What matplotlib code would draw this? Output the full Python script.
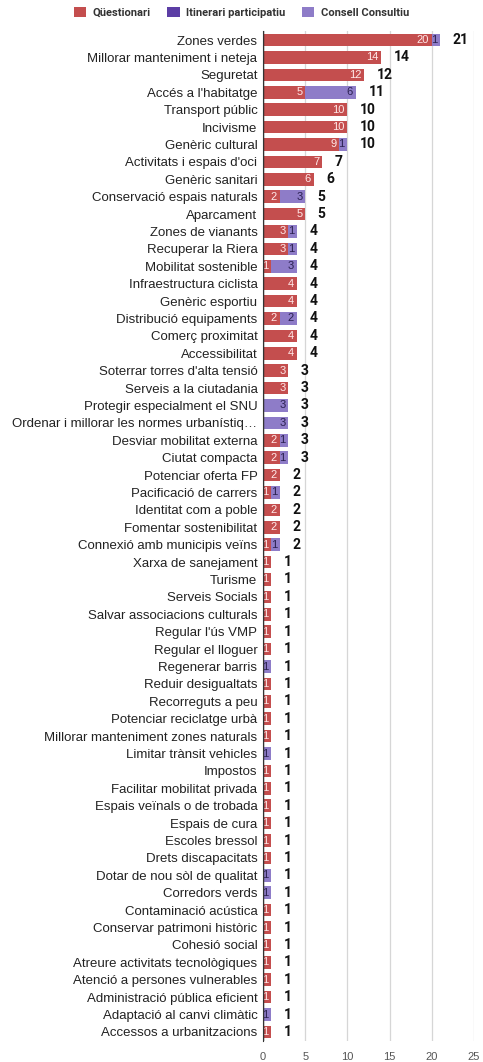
import matplotlib.pyplot as plt
import numpy as np

categories = [
    "Zones verdes", "Millorar manteniment i neteja", "Seguretat", "Accés a l'habitatge",
    "Transport públic", "Incivisme", "Genèric cultural", "Activitats i espais d'oci",
    "Genèric sanitari", "Conservació espais naturals", "Aparcament", "Zones de vianants",
    "Recuperar la Riera", "Mobilitat sostenible", "Infraestructura ciclista", "Genèric esportiu",
    "Distribució equipaments", "Comerç proximitat", "Accessibilitat", "Soterrar torres d'alta tensió",
    "Serveis a la ciutadania", "Protegir especialment el SNU",
    "Ordenar i millorar les normes urbanístiq…", "Desviar mobilitat externa", "Ciutat compacta",
    "Potenciar oferta FP", "Pacificació de carrers", "Identitat com a poble", "Fomentar sostenibilitat",
    "Connexió amb municipis veïns", "Xarxa de sanejament", "Turisme", "Serveis Socials",
    "Salvar associacions culturals", "Regular l'ús VMP", "Regular el lloguer", "Regenerar barris",
    "Reduir desigualtats", "Recorreguts a peu", "Potenciar reciclatge urbà",
    "Millorar manteniment zones naturals", "Limitar trànsit vehicles", "Impostos",
    "Facilitar mobilitat privada", "Espais veïnals o de trobada", "Espais de cura", "Escoles bressol",
    "Drets discapacitats", "Dotar de nou sòl de qualitat", "Corredors verds", "Contaminació acústica",
    "Conservar patrimoni històric", "Cohesió social", "Atreure activitats tecnològiques",
    "Atenció a persones vulnerables", "Administració pública eficient", "Adaptació al canvi climàtic",
    "Accessos a urbanitzacions",
]
questionari = [20, 14, 12, 5, 10, 10, 9, 7, 6, 2, 5, 3, 3, 1, 4, 4, 2, 4, 4, 3, 3, 0, 0, 2, 2,
               2, 1, 2, 2, 1, 1, 1, 1, 1, 1, 1, 0, 1, 1, 1, 1, 0, 1, 1, 1, 1, 1, 1, 0, 0, 1,
               1, 1, 1, 1, 1, 0, 1]
itinerari = [0] * len(categories)
consell = [1, 0, 0, 6, 0, 0, 1, 0, 0, 3, 0, 1, 1, 3, 0, 0, 2, 0, 0, 0, 0, 3, 3, 1, 1,
           0, 1, 0, 0, 1, 0, 0, 0, 0, 0, 0, 1, 0, 0, 0, 0, 1, 0, 0, 0, 0, 0, 0, 1, 1, 0,
           0, 0, 0, 0, 0, 1, 0]
series_names = ["Qüestionari", "Itinerari participatiu", "Consell Consultiu"]
colors = ["#c44e4e", "#5c3ea5", "#8e7cc8"]
label_colors = ["#ffe8e8", "#ffffff", "#2a2050"]

plt.rcParams['font.family'] = ['Liberation Sans', 'DejaVu Sans']

fig = plt.figure(figsize=(4.83, 10.62), dpi=100)
ax = fig.add_axes([0.5445, 0.0201, 0.4369, 0.9504])

y = np.arange(len(categories))
left = np.zeros(len(categories))
handles = []
for vals, name, col, lcol in zip([questionari, itinerari, consell], series_names, colors, label_colors):
    vals = np.array(vals, dtype=float)
    h = ax.barh(y, vals, left=left, height=0.72, color=col, label=name, zorder=3)
    handles.append(h)
    for yi, v, l in zip(y, vals, left):
        if v > 0:
            ax.annotate(str(int(v)), (l + v, yi), xytext=(-2, 0), textcoords='offset points',
                        ha='right', va='center', fontsize=8, color=lcol, zorder=4)
    left = left + vals

for yi, tot in zip(y, left):
    ax.annotate(str(int(tot)), (tot, yi), xytext=(9, 0), textcoords='offset points',
                ha='left', va='center', fontsize=10, fontweight='bold', color='#111111',
                family=['Roboto', 'DejaVu Sans'])

ax.set_xlim(0, 25)
ax.set_ylim(len(categories) - 0.5, -0.5)
ax.set_yticks(y)
ax.set_yticklabels(categories, fontsize=9.5, color='#222222')
ax.set_xticks([0, 5, 10, 15, 20, 25])
ax.tick_params(axis='x', labelsize=8, colors='#555555', length=0, pad=8)
ax.tick_params(axis='y', length=0, pad=4)
ax.grid(axis='x', color='#d6d6d6', linewidth=0.9, zorder=0)
for s in ['top', 'right', 'bottom']:
    ax.spines[s].set_visible(False)
ax.spines['left'].set_color('#333333')
ax.spines['left'].set_zorder(5)
ax.axvline(0, color='#333333', linewidth=1, zorder=5)

fig.legend(handles=handles, labels=series_names, loc='upper center', bbox_to_anchor=(0.5, 1.003),
           ncol=3, frameon=False, handlelength=1.1, handleheight=1.1, handletextpad=0.6,
           columnspacing=1.5, prop={'family': ['Roboto', 'DejaVu Sans'], 'weight': 'bold', 'size': 8},
           labelcolor='#333333')

fig.savefig("out.png", dpi=100)
